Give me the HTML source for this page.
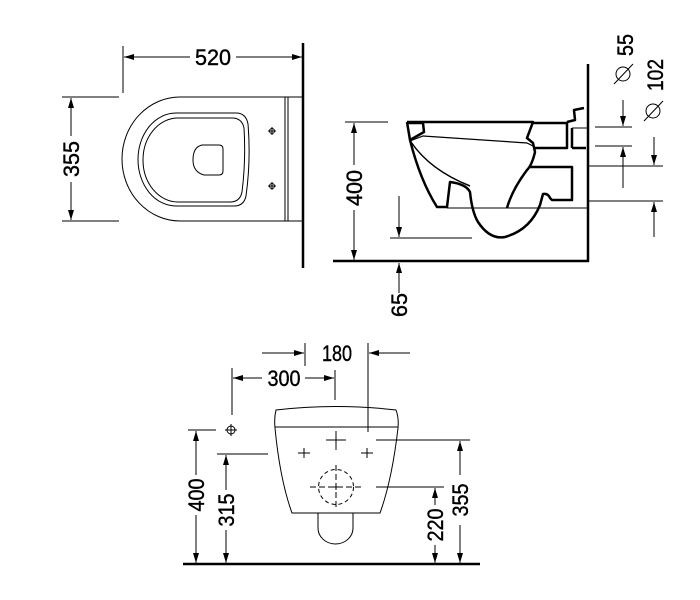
<!DOCTYPE html>
<html><head><meta charset="utf-8"><style>
html,body{margin:0;padding:0;background:#fff;}
svg{display:block}
text{font-family:"Liberation Sans",sans-serif;font-size:22px;fill:#000;stroke:#000;stroke-width:0.4;}
</style></head><body>
<svg width="700" height="600" viewBox="0 0 700 600" xmlns="http://www.w3.org/2000/svg">
<defs>
<marker id="a" viewBox="0 0 10 6" refX="10" refY="3" markerWidth="10" markerHeight="6" markerUnits="userSpaceOnUse" orient="auto"><path d="M0,0L10,3L0,6Z" fill="#000"/></marker>
</defs>
<g stroke="#000" fill="none" stroke-width="1">
<!-- TOP VIEW -->
<line x1="303" y1="43" x2="303" y2="268" stroke-width="2.5"/>
<line x1="123" y1="46" x2="123" y2="93"/>
<line x1="190" y1="57" x2="124" y2="57" marker-end="url(#a)"/>
<line x1="236" y1="57" x2="302" y2="57" marker-end="url(#a)"/>
<line x1="62" y1="97" x2="119" y2="97"/>
<line x1="62" y1="221" x2="119" y2="221"/>
<line x1="71" y1="136" x2="71" y2="98" marker-end="url(#a)"/>
<line x1="71" y1="182" x2="71" y2="220" marker-end="url(#a)"/>
<path d="M303,97 H180 A58,62 0 0 0 180,221 H303"/>
<line x1="285" y1="97" x2="285" y2="221"/><line x1="288" y1="97" x2="288" y2="221"/>
<path d="M176,113 H236 Q246,113 248,124 Q251,160 246,196 Q244,206 234,206 H176 A38,46.5 0 0 1 176,113 Z"/>
<path d="M178,118 H232 Q242,118 244,128 Q246,160 242,192 Q240,202 230,202 H178 A35,42 0 0 1 178,118 Z"/>
<path d="M202,145 H219 Q223,145 223,149 V171 Q223,175 219,175 H204 Q193,172 193,160 Q193,147 202,145 Z"/>
<circle cx="272" cy="131" r="2.5"/><path d="M268,131H276M272,127V135"/>
<circle cx="272" cy="186" r="2.5"/><path d="M268,186H276M272,182V190"/>

<!-- SIDE VIEW -->
<line x1="588" y1="64" x2="588" y2="262" stroke-width="2.5"/>
<line x1="333" y1="261" x2="589" y2="261" stroke-width="2.5"/>
<line x1="345" y1="122" x2="388" y2="122"/>
<line x1="354" y1="165" x2="354" y2="123" marker-end="url(#a)"/>
<line x1="354" y1="210" x2="354" y2="260" marker-end="url(#a)"/>
<line x1="390" y1="238" x2="472" y2="238"/>
<line x1="399" y1="196" x2="399" y2="237" marker-end="url(#a)"/>
<line x1="399" y1="293" x2="399" y2="263" marker-end="url(#a)"/>
<line x1="595" y1="127" x2="632" y2="127"/>
<line x1="595" y1="146" x2="632" y2="146"/>
<line x1="588" y1="166" x2="663" y2="166"/>
<line x1="588" y1="201" x2="663" y2="201"/>
<line x1="623" y1="100" x2="623" y2="126" marker-end="url(#a)"/>
<line x1="623" y1="188" x2="623" y2="147" marker-end="url(#a)"/>
<line x1="654" y1="137" x2="654" y2="165" marker-end="url(#a)"/>
<line x1="654" y1="237" x2="654" y2="202" marker-end="url(#a)"/>
<g stroke-width="2.5" stroke-linejoin="round">
<path d="M407,122 H533 L527,138 L533,143 L535,152 Q532,165 527,170 Q512,190 507,208"/>
<path d="M407,122 L410,140 Q420,180 437,207 H447 L450,182 Q466,184 470,192 Q472,212 478,222 Q490,240 505,237 Q530,230 540,205 L543,194 Q548,193 550,198 L552,200 H572 V167 H530"/>
<path d="M533,123 H567 V148 H535"/>
<path d="M572,148 H586 M572,128 V148 M567,122 L575,120 L574,110 L584,108"/>
<path d="M407,123 H423 L424,132 L410,140"/>
</g>
<path d="M410,141 L423,136 L527,143 L533,146" stroke-width="1.2"/>
<path d="M411,142 Q430,170 470,186" stroke-width="1.5"/>
<line x1="447" y1="208" x2="588" y2="208"/>
<line x1="572" y1="128" x2="588" y2="128"/>

<!-- FRONT VIEW -->
<line x1="183" y1="564" x2="480" y2="564" stroke-width="2.5"/>
<line x1="305" y1="343" x2="305" y2="366"/>
<line x1="368" y1="343" x2="368" y2="432"/>
<line x1="262" y1="353" x2="304" y2="353" marker-end="url(#a)"/>
<line x1="410" y1="353" x2="369" y2="353" marker-end="url(#a)"/>
<line x1="232" y1="368" x2="232" y2="415"/>
<line x1="335" y1="370" x2="335" y2="400"/>
<line x1="262" y1="378" x2="233" y2="378" marker-end="url(#a)"/>
<line x1="305" y1="378" x2="334" y2="378" marker-end="url(#a)"/>
<circle cx="231" cy="430" r="4"/><path d="M225,430H237M231,424V436"/>
<path d="M275,428 Q274,418 276,410 Q336,403 396,410 Q399,418 398,428"/>
<line x1="275" y1="427" x2="398" y2="427"/>
<path d="M275,428 Q280,480 292,513 H380 Q392,480 398,428"/>
<path d="M318,513 V528 A17.5,16 0 0 0 353,528 V513"/>
<circle cx="336" cy="487" r="17.5" stroke-dasharray="4,3"/>
<path d="M310,487H362M336,465V510M333,487h6M336,484v6" stroke-dasharray="6,3"/>
<path d="M326,440H346M336,431V450"/>
<path d="M298,453H310M304,448V458M361,453H373M367,448V458"/>
<line x1="188" y1="430" x2="216" y2="430"/>
<line x1="217" y1="454" x2="268" y2="454"/>
<line x1="376" y1="440" x2="470" y2="440"/>
<line x1="376" y1="487" x2="444" y2="487"/>
<line x1="196" y1="475" x2="196" y2="431" marker-end="url(#a)"/>
<line x1="196" y1="515" x2="196" y2="563" marker-end="url(#a)"/>
<line x1="226" y1="490" x2="226" y2="455" marker-end="url(#a)"/>
<line x1="226" y1="530" x2="226" y2="563" marker-end="url(#a)"/>
<line x1="460" y1="475" x2="460" y2="441" marker-end="url(#a)"/>
<line x1="460" y1="525" x2="460" y2="563" marker-end="url(#a)"/>
<line x1="435" y1="505" x2="435" y2="488" marker-end="url(#a)"/>
<line x1="435" y1="545" x2="435" y2="563" marker-end="url(#a)"/>
</g>
<g>
<text x="213" y="65" text-anchor="middle" textLength="36" lengthAdjust="spacingAndGlyphs">520</text>
<text transform="translate(79,159) rotate(-90)" text-anchor="middle" textLength="36" lengthAdjust="spacingAndGlyphs">355</text>
<text transform="translate(362,188) rotate(-90)" text-anchor="middle" textLength="36" lengthAdjust="spacingAndGlyphs">400</text>
<text transform="translate(407,305) rotate(-90)" text-anchor="middle" textLength="24" lengthAdjust="spacingAndGlyphs">65</text>
<text transform="translate(633,45) rotate(-90)" text-anchor="middle" textLength="22" lengthAdjust="spacingAndGlyphs">55</text>
<text transform="translate(663,75) rotate(-90)" text-anchor="middle" textLength="32" lengthAdjust="spacingAndGlyphs">102</text>
<text x="337" y="361" text-anchor="middle" textLength="30" lengthAdjust="spacingAndGlyphs">180</text>
<text x="284" y="386" text-anchor="middle" textLength="33" lengthAdjust="spacingAndGlyphs">300</text>
<text transform="translate(204,495) rotate(-90)" text-anchor="middle" textLength="33" lengthAdjust="spacingAndGlyphs">400</text>
<text transform="translate(234,510) rotate(-90)" text-anchor="middle" textLength="33" lengthAdjust="spacingAndGlyphs">315</text>
<text transform="translate(468,500) rotate(-90)" text-anchor="middle" textLength="33" lengthAdjust="spacingAndGlyphs">355</text>
<text transform="translate(443,525) rotate(-90)" text-anchor="middle" textLength="33" lengthAdjust="spacingAndGlyphs">220</text>
</g>
<g stroke="#000" fill="none" stroke-width="1">
<circle cx="623" cy="74" r="7"/><line x1="614" y1="84" x2="633" y2="64"/>
<circle cx="653" cy="111" r="7"/><line x1="644" y1="121" x2="663" y2="101"/>
</g>
</svg>
</body></html>
